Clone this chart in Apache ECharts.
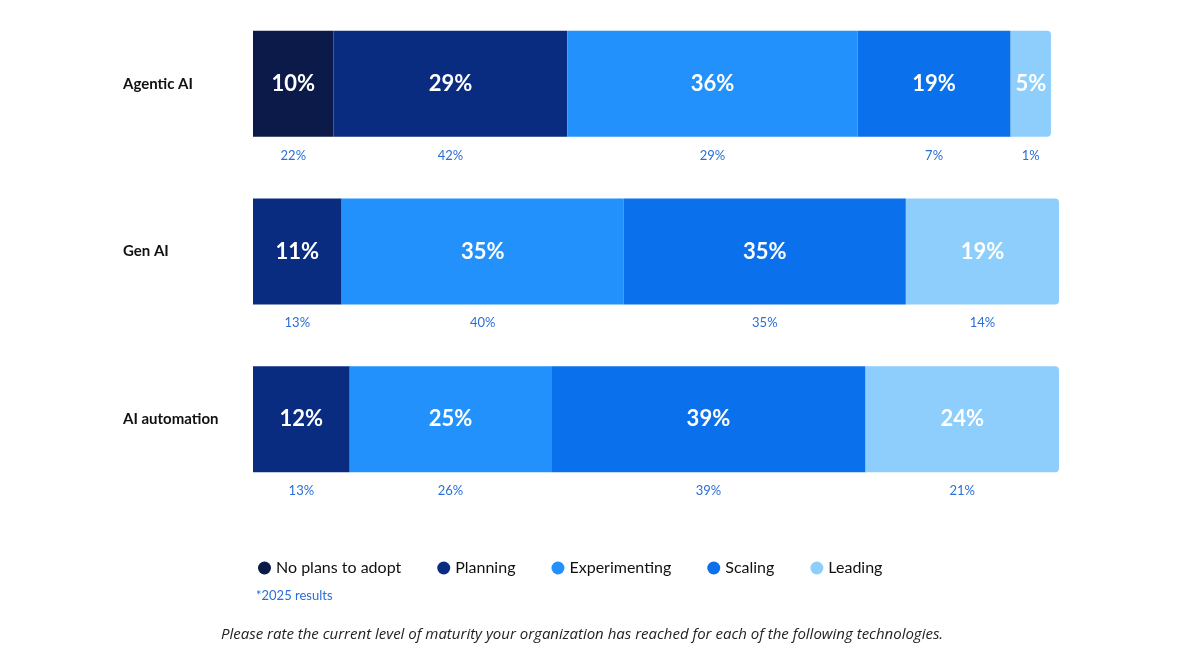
<!DOCTYPE html>
<html>
<head>
<meta charset="utf-8">
<script src="https://cdn.jsdelivr.net/npm/echarts@6/dist/echarts.min.js"></script>
<style>
html,body{margin:0;padding:0;background:#fff;}
#chart{width:1177px;height:661px;}
</style>
</head>
<body>
<div id="chart"></div>
<script>
// categories, top to bottom
var categories = ['Agentic AI', 'Gen AI', 'AI automation'];
var stages = ['No plans to adopt', 'Planning', 'Experimenting', 'Scaling', 'Leading'];
var colors = ['#0b1a48', '#0a2c80', '#2391fc', '#0a70ec', '#8dcefd'];

// current results, one value per category
var noPlans = [10, null, null];
var planning = [29, 11, 12];
var experimenting = [36, 35, 25];
var scaling = [19, 35, 39];
var leading = [5, 19, 24];

// 2025 results (shown under each segment), one value per category
var noPlans2025 = [22, null, null];
var planning2025 = [42, 13, 13];
var experimenting2025 = [29, 40, 26];
var scaling2025 = [7, 35, 39];
var leading2025 = [1, 14, 21];

var current = [noPlans, planning, experimenting, scaling, leading];
var prev = [noPlans2025, planning2025, experimenting2025, scaling2025, leading2025];

var chart = echarts.init(document.getElementById('chart'));
var font = 'Lato, "Noto Sans", sans-serif';

var series = [];
stages.forEach(function (name, i) {
    series.push({
        name: name,
        type: 'bar',
        stack: 'now',
        barWidth: 106,
        data: current[i],
        itemStyle: {color: colors[i], borderRadius: i == 4 ? [0, 4, 4, 0] : 0},
        label: {
            show: true, position: 'inside', formatter: '{c}%',
            color: '#fff', fontSize: 22, fontWeight: 'bold', fontFamily: font
        }
    });
});
// invisible bars sized by current values, labelled with the 2025 numbers
stages.forEach(function (name, i) {
    series.push({
        name: name + '_2025',
        type: 'bar',
        stack: 'prev',
        barWidth: 106,
        barGap: '-100%',
        silent: true,
        data: current[i].map(function (v, k) {
            return v == null ? null : {value: v, prevVal: prev[i][k]};
        }),
        itemStyle: {color: 'rgba(0,0,0,0)'},
        label: {
            show: true, position: 'bottom', distance: 12,
            formatter: function (p) { return p.data.prevVal == null ? '' : p.data.prevVal + '%'; },
            color: '#2a6fd8', fontSize: 13, fontFamily: font
        }
    });
});

chart.setOption({
    animation: false,
    grid: {left: 253, right: 118, top: -28, height: 531},
    xAxis: {type: 'value', min: 0, max: 100, show: false},
    yAxis: {
        type: 'category', data: categories, inverse: true,
        axisLine: {show: false}, axisTick: {show: false},
        axisLabel: {
            margin: 130, align: 'left',
            color: '#111', fontSize: 15, fontWeight: 'bold', fontFamily: font
        }
    },
    legend: {
        data: stages, left: 253, top: 555, icon: 'circle', itemWidth: 13, itemHeight: 13, itemGap: 36,
        textStyle: {color: '#111', fontSize: 16, fontFamily: font}
    },
    graphic: [
        {type: 'text', left: 256, top: 589, style: {text: '*2025 results', fill: '#2a6fd8', fontSize: 13, fontFamily: font}},
        {type: 'text', left: 221, top: 627, style: {
            text: 'Please rate the current level of maturity your organization has reached for each of the following technologies.',
            fill: '#222', fontSize: 15, fontStyle: 'italic', fontFamily: '"Open Sans", sans-serif'}}
    ],
    series: series
});
</script>
</body>
</html>
